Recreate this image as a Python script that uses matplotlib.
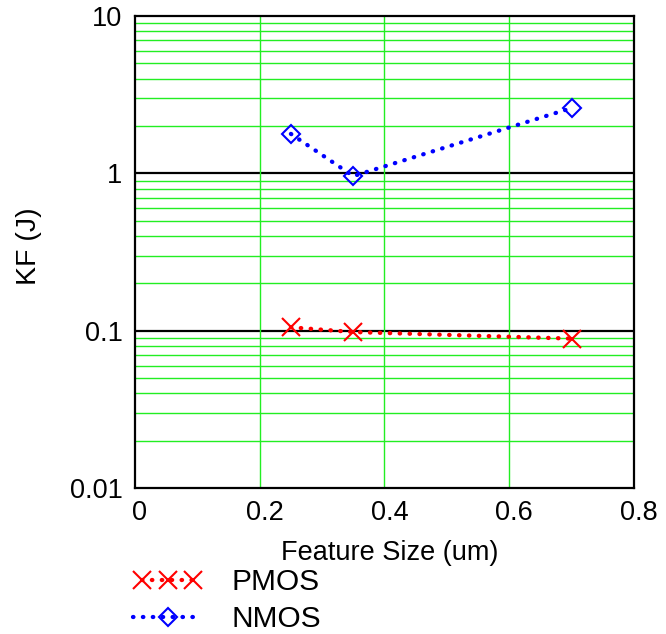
import numpy as np
import matplotlib.pyplot as plt
import matplotlib.transforms as mtransforms
from matplotlib.legend_handler import HandlerLine2D
from matplotlib.ticker import FixedLocator, NullFormatter

plt.rcParams['font.family'] = ['Liberation Sans', 'DejaVu Sans']

# data
feature_size = [0.25, 0.35, 0.7]
kf_pmos = [0.105, 0.098, 0.089]
kf_nmos = [1.78, 0.96, 2.6]

fig = plt.figure(figsize=(6.66, 6.34), dpi=100)
ax = fig.add_axes([0.2027, 0.2303, 0.7492, 0.7445])

ax.set_yscale('log')
ax.set_xlim(0, 0.8)
ax.set_ylim(0.01, 10)

# minor green grid, black lines at decades
minors = [m * 10.0**e for e in (-2, -1, 0) for m in range(2, 10)]
ax.yaxis.set_minor_locator(FixedLocator(minors))
ax.yaxis.set_minor_formatter(NullFormatter())
ax.grid(True, which='minor', axis='y', color='#22ee22', lw=1.0)
for v in (0.1, 1):
    ax.axhline(v, color='black', lw=1.6, zorder=1)
for v in (0.2, 0.4, 0.6):
    ax.axvline(v, color='#22ee22', lw=1.0, zorder=1)

ax.set_yticks([0.01, 0.1, 1, 10])
ax.set_yticklabels(['0.01', '0.1', '1', '10'])
ax.set_xticks([0, 0.2, 0.4, 0.6, 0.8])
ax.set_xticklabels(['0', '0.2', '0.4', '0.6', '0.8'])
ax.tick_params(which='both', length=0, labelsize=19.5, pad=9)
shift = mtransforms.ScaledTranslation(5 / 100, 0, fig.dpi_scale_trans)
for lab in ax.get_xticklabels():
    lab.set_transform(lab.get_transform() + shift)

for s in ax.spines.values():
    s.set_linewidth(1.6)

dots = (0, (0.1, 2.2))
p, = ax.plot(feature_size, kf_pmos, color='red', ls=dots, lw=3.1,
             dash_capstyle='round', marker='x', ms=13, mew=1.5, label='PMOS', zorder=3)
n, = ax.plot(feature_size, kf_nmos, color='blue', ls=dots, lw=3.1,
             dash_capstyle='round', marker='D', ms=9, mfc='none', mew=1.5, label='NMOS', zorder=3)

ax.set_xlabel('Feature Size (um)', fontsize=19.5)
ax.xaxis.set_label_coords(0.51, -0.111)
ax.set_ylabel('KF (J)', fontsize=20.5)
ax.yaxis.set_label_coords(-0.186, 0.513)

fig.legend(handles=[p, n], loc='upper left', bbox_to_anchor=(0.2, 0.104),
           frameon=False, fontsize=21.5, handlelength=2.3, handletextpad=1.0,
           labelspacing=0.3, borderaxespad=0, borderpad=0,
           handler_map={p: HandlerLine2D(numpoints=3), n: HandlerLine2D(numpoints=1)})

fig.savefig('out.png', dpi=100)
